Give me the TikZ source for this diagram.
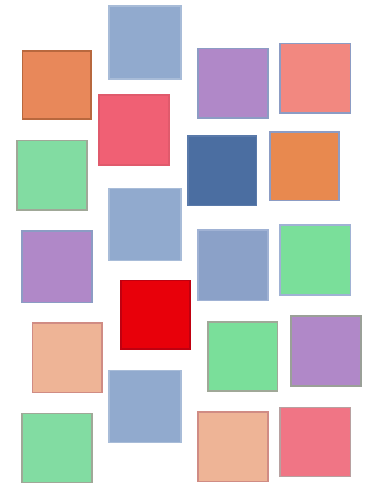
\documentclass[tikz,border=0pt]{standalone}
\begin{document}
\begin{tikzpicture}[x=1pt,y=-1pt,
  sq/.style={line width=1.3pt},
  ]
\definecolor{bgray}{HTML}{91AACE}
\definecolor{bgrayb}{HTML}{A8BCD8}
\definecolor{orng}{HTML}{E8885A}
\definecolor{orngb}{HTML}{B8683E}
\definecolor{purp}{HTML}{B088C8}
\definecolor{purpb}{HTML}{8C9CC4}
\definecolor{salm}{HTML}{F28880}
\definecolor{pink}{HTML}{F06074}
\definecolor{pinkb}{HTML}{E05A6C}
\definecolor{grn}{HTML}{82DCA2}
\definecolor{grnb}{HTML}{A0A898}
\definecolor{dblue}{HTML}{4B6EA1}
\definecolor{dblueb}{HTML}{5A7AAA}
\definecolor{orng2}{HTML}{E8894F}
\definecolor{gblue}{HTML}{8BA1C8}
\definecolor{gblueb}{HTML}{A0B2D4}
\definecolor{grn2}{HTML}{7ADF9A}
\definecolor{redd}{HTML}{E8000A}
\definecolor{reddb}{HTML}{C00010}
\definecolor{purpgb}{HTML}{9AA098}
\definecolor{peach}{HTML}{EEB496}
\definecolor{peachb}{HTML}{D08C84}
\definecolor{pink2}{HTML}{F07585}
\definecolor{pink2b}{HTML}{B8A0A0}
\useasboundingbox[fill=white] (0,0) rectangle (373,483);
% row 1
\draw[sq,fill=bgray,draw=bgrayb] (109,6) rectangle (181,79);
\draw[sq,fill=orng,draw=orngb] (22.5,51) rectangle (91,119);
\draw[sq,fill=purp,draw=purpb] (198,48.5) rectangle (268,118);
\draw[sq,fill=salm,draw=purpb] (280,43.5) rectangle (350.5,113);
% row 2
\draw[sq,fill=pink,draw=pinkb] (99,95) rectangle (169,165);
\draw[sq,fill=grn,draw=grnb] (17,140.5) rectangle (87,210);
\draw[sq,fill=dblue,draw=dblueb] (188,136) rectangle (256.5,205.5);
\draw[sq,fill=orng2,draw=purpb] (270,132) rectangle (339,200.5);
% row 3
\draw[sq,fill=bgray,draw=bgrayb] (109,188.5) rectangle (181,260.5);
\draw[sq,fill=purp,draw=purpb] (22,231) rectangle (92,302.5);
\draw[sq,fill=gblue,draw=gblueb] (198,230) rectangle (268,300.5);
\draw[sq,fill=grn2,draw=gblueb] (280,225) rectangle (350.5,295);
% row 4
\draw[sq,fill=redd,draw=reddb] (121,280.5) rectangle (190,349);
\draw[sq,fill=purp,draw=purpgb] (291,316) rectangle (361,386);
\draw[sq,fill=peach,draw=peachb] (32.5,323) rectangle (102,392.5);
\draw[sq,fill=grn2,draw=grnb] (208,322) rectangle (277.5,391);
% row 5
\draw[sq,fill=bgray,draw=bgrayb] (109,370.5) rectangle (181,442.5);
\draw[sq,fill=grn,draw=grnb] (22,413.5) rectangle (92,482.5);
\draw[sq,fill=peach,draw=peachb] (198,412) rectangle (268,481.5);
\draw[sq,fill=pink2,draw=pink2b] (280,407.5) rectangle (350.5,476.5);
\end{tikzpicture}
\end{document}
